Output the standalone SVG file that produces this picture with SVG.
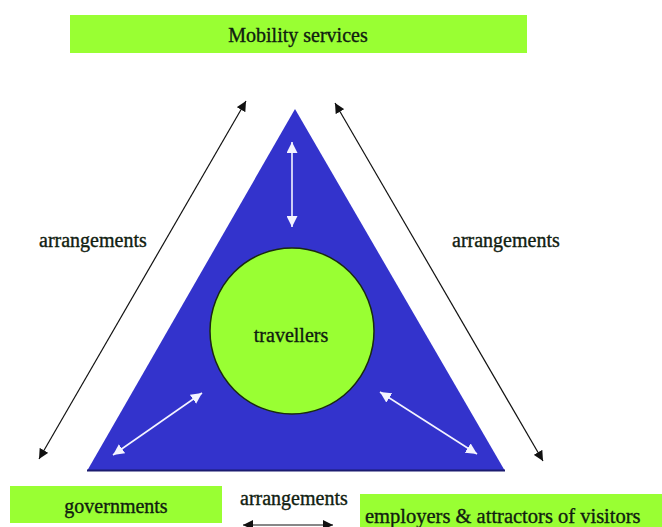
<svg xmlns="http://www.w3.org/2000/svg" width="662" height="527" viewBox="0 0 662 527">
  <style>
    .box { fill: #99ff33; }
    .lbl { font-family: "Liberation Serif", "Times New Roman", serif; font-size: 20px; fill: #102010; stroke: #102010; stroke-width: 0.35; }
    .outer { stroke: #111; stroke-width: 1.2; fill: none; marker-start: url(#headBlack); marker-end: url(#headBlack); }
    .inner { stroke: #f4f4ff; stroke-width: 1.6; fill: none; marker-start: url(#headWhite); marker-end: url(#headWhite); }
  </style>
  <defs>
    <marker id="headBlack" viewBox="0 0 10 10" refX="10" refY="5" markerWidth="10" markerHeight="10" markerUnits="userSpaceOnUse" orient="auto-start-reverse">
      <path d="M0,0 L10,5 L0,10 z" fill="#111"/>
    </marker>
    <marker id="headWhite" viewBox="0 0 10 10" refX="10" refY="5" markerWidth="11" markerHeight="11" markerUnits="userSpaceOnUse" orient="auto-start-reverse">
      <path d="M0,0 L10,5 L0,10 z" fill="#f4f4ff"/>
    </marker>
  </defs>

  <rect width="662" height="527" fill="#ffffff"/>

  <!-- central triangle -->
  <g id="triangle">
    <path d="M295,109 L505,471 L87,471 Z" fill="#3333cc"/>
    <line x1="87" y1="470.5" x2="505" y2="470.5" stroke="#1c1c70" stroke-width="2"/>
  </g>

  <g id="mobility-services">
    <rect class="box" x="70" y="15" width="457" height="38"/>
    <text class="lbl" x="298" y="42" text-anchor="middle">Mobility services</text>
  </g>

  <g id="travellers">
    <ellipse cx="292" cy="331" rx="82" ry="83" fill="#99ff33" stroke="#1a2a10" stroke-width="1.5"/>
    <text class="lbl" x="291" y="342" text-anchor="middle">travellers</text>
  </g>

  <g id="governments">
    <rect class="box" x="10" y="486" width="212" height="37"/>
    <text class="lbl" x="116" y="513" text-anchor="middle">governments</text>
  </g>

  <g id="employers">
    <rect class="box" x="360" y="494" width="302" height="33"/>
    <text class="lbl" x="365" y="523" style="font-size:20.5px">employers &amp; attractors of visitors</text>
  </g>

  <!-- relationship labels -->
  <g id="labels">
    <text class="lbl" x="39" y="247">arrangements</text>
    <text class="lbl" x="452" y="247">arrangements</text>
    <text class="lbl" x="240" y="505">arrangements</text>
  </g>

  <g id="connectors">
    <line class="outer" x1="246" y1="101" x2="39" y2="459"/>
    <line class="outer" x1="335" y1="103" x2="543" y2="461"/>
    <line class="outer" x1="243" y1="525" x2="333" y2="525"/>
    <line class="inner" x1="292" y1="142" x2="292" y2="227"/>
    <line class="inner" x1="113" y1="455" x2="202" y2="393"/>
    <line class="inner" x1="380" y1="392" x2="477" y2="454"/>
  </g>
</svg>
